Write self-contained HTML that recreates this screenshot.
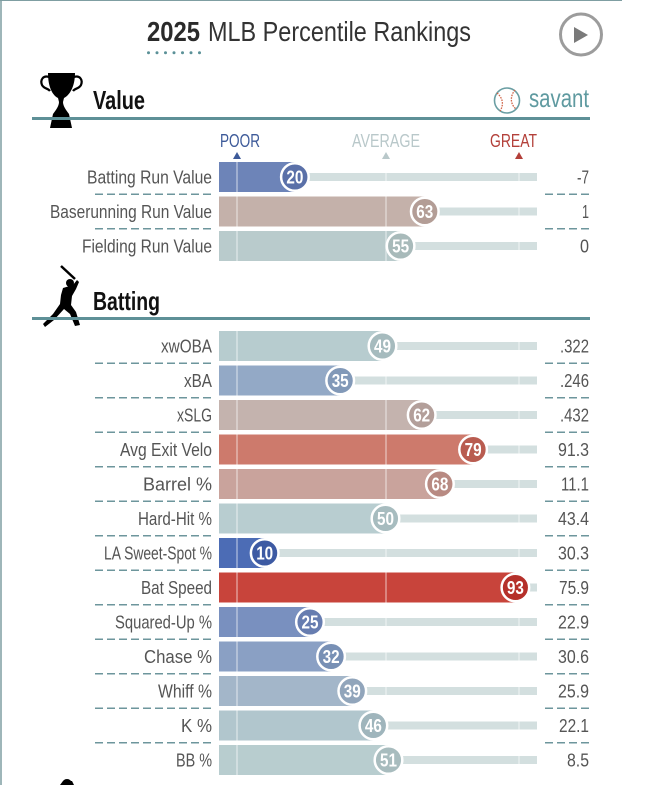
<!DOCTYPE html>
<html>
<head>
<meta charset="utf-8">
<style>
  html,body{margin:0;padding:0;background:#fff;}
  svg{display:block;}
  .lbl{font-family:"Liberation Sans Narrow","Liberation Sans",sans-serif;font-size:18.5px;fill:#555;}
  .val{font-family:"Liberation Sans Narrow","Liberation Sans",sans-serif;font-size:18.5px;fill:#555;}
  .num{font-family:"Liberation Sans Narrow","Liberation Sans",sans-serif;font-size:18px;font-weight:bold;fill:#fff;}
  .hdr{font-family:"Liberation Sans Narrow","Liberation Sans",sans-serif;font-size:26px;font-weight:bold;fill:#111;}
  .tl{font-family:"Liberation Sans Narrow","Liberation Sans",sans-serif;font-size:18.5px;}
</style>
</head>
<body>
<svg width="667" height="785" viewBox="0 0 667 785" xmlns="http://www.w3.org/2000/svg">
  <!-- borders -->
  <line x1="0" y1="0.5" x2="622" y2="0.5" stroke="#7f9ea2" stroke-width="1"/>
  <line x1="1" y1="0" x2="1" y2="785" stroke="#7f9ea2" stroke-width="1.5"/>

  <!-- title -->
  <text x="147" y="41" font-family="Liberation Sans Narrow, Liberation Sans, sans-serif" font-size="27.5" font-weight="bold" fill="#2a2a2a" textLength="53" lengthAdjust="spacingAndGlyphs">2025</text>
  <text x="208" y="41" font-family="Liberation Sans Narrow, Liberation Sans, sans-serif" font-size="27.5" fill="#333" textLength="263" lengthAdjust="spacingAndGlyphs">MLB Percentile Rankings</text>
  <g fill="#5b9198">
    <circle cx="148.5" cy="52.7" r="1.5"/><circle cx="157" cy="52.7" r="1.5"/><circle cx="165.5" cy="52.7" r="1.5"/>
    <circle cx="174" cy="52.7" r="1.5"/><circle cx="182.5" cy="52.7" r="1.5"/><circle cx="191" cy="52.7" r="1.5"/>
    <circle cx="199.5" cy="52.7" r="1.5"/>
  </g>

  <!-- play button -->
  <circle cx="581" cy="34.5" r="20.5" fill="none" stroke="#9c9c9c" stroke-width="3"/>
  <polygon points="574,27 574,43 588,35" fill="#7a7a7a"/>

  <!-- trophy -->
  <g fill="#000">
    <path d="M48 73 H75 C75 86 70 95 64 98 L63 102 C63 106 66 110 69 114 L72 128 H50 L53 114 C56 110 59 106 59 102 L58 98 C52 95 48 86 48 73 Z"/>
  </g>
  <g fill="none" stroke="#000" stroke-width="2.2">
    <path d="M49 77 C43 75 40 80 42 85 C44 89 48 88 50 91"/>
    <path d="M74 77 C80 75 83 80 81 85 C79 89 75 88 73 91"/>
  </g>
  <text x="93" y="109" class="hdr" textLength="52" lengthAdjust="spacingAndGlyphs">Value</text>

  <!-- savant -->
  <circle cx="507" cy="100.5" r="12.5" fill="#fff" stroke="#6a9ea3" stroke-width="1.6"/>
  <path d="M497 93 C503 98 504 105 500 111" fill="none" stroke="#d0664a" stroke-width="1.3" stroke-dasharray="1.6 1.1"/>
  <path d="M515 90 C510 96 510 104 516 109" fill="none" stroke="#d0664a" stroke-width="1.3" stroke-dasharray="1.6 1.1"/>
  <text x="529" y="107" font-family="Liberation Sans Narrow, Liberation Sans, sans-serif" font-size="26" fill="#5f9aa0" textLength="60" lengthAdjust="spacingAndGlyphs">savant</text>

  <rect x="32" y="117" width="558" height="3" fill="#5e9097"/>

  <!-- POOR / AVERAGE / GREAT -->
  <text x="220" y="147" class="tl" fill="#3d5a99" textLength="40" lengthAdjust="spacingAndGlyphs">POOR</text>
  <text x="352" y="147" class="tl" fill="#b9c8ca" textLength="68" lengthAdjust="spacingAndGlyphs">AVERAGE</text>
  <text x="490" y="147" class="tl" fill="#b3403a" textLength="47" lengthAdjust="spacingAndGlyphs">GREAT</text>
  <polygon points="233,159 241,159 237,152" fill="#3d5a99"/>
  <polygon points="382,159 390,159 386,152" fill="#b9c8ca"/>
  <polygon points="515,159 523,159 519,152" fill="#b3403a"/>

  <!-- ===== VALUE ROWS ===== -->
  <rect x="219" y="173" width="318" height="8" fill="#d3dfdf"/>
  <rect x="219" y="162" width="75.9" height="30" fill="#6d84b8"/>
  <rect x="236" y="162" width="2" height="30" fill="#fff" opacity="0.35"/>
  <rect x="385" y="162" width="2" height="30" fill="#fff" opacity="0.35"/>
  <rect x="518" y="162" width="2" height="30" fill="#fff" opacity="0.35"/>
  <circle cx="294.9" cy="177" r="13.8" fill="#5a70a8" stroke="#fff" stroke-width="2.5"/>
  <text x="294.9" y="183.5" class="num" text-anchor="middle" textLength="17" lengthAdjust="spacingAndGlyphs">20</text>
  <text x="87" y="183.5" class="lbl" textLength="125" lengthAdjust="spacingAndGlyphs">Batting Run Value</text>
  <text x="589" y="183.5" class="val" text-anchor="end" textLength="12" lengthAdjust="spacingAndGlyphs">-7</text>

  <rect x="219" y="207.5" width="318" height="8" fill="#d3dfdf"/>
  <rect x="219" y="196.5" width="205.8" height="30" fill="#c4b1aa"/>
  <rect x="236" y="196.5" width="2" height="30" fill="#fff" opacity="0.35"/>
  <rect x="385" y="196.5" width="2" height="30" fill="#fff" opacity="0.35"/>
  <rect x="518" y="196.5" width="2" height="30" fill="#fff" opacity="0.35"/>
  <circle cx="424.8" cy="211.5" r="13.8" fill="#b39d96" stroke="#fff" stroke-width="2.5"/>
  <text x="424.8" y="218" class="num" text-anchor="middle" textLength="17" lengthAdjust="spacingAndGlyphs">63</text>
  <text x="50" y="218" class="lbl" textLength="162" lengthAdjust="spacingAndGlyphs">Baserunning Run Value</text>
  <text x="589" y="218" class="val" text-anchor="end" textLength="7" lengthAdjust="spacingAndGlyphs">1</text>

  <rect x="219" y="242" width="318" height="8" fill="#d3dfdf"/>
  <rect x="219" y="231" width="181.6" height="30" fill="#b9cbcc"/>
  <rect x="236" y="231" width="2" height="30" fill="#fff" opacity="0.35"/>
  <rect x="385" y="231" width="2" height="30" fill="#fff" opacity="0.35"/>
  <rect x="518" y="231" width="2" height="30" fill="#fff" opacity="0.35"/>
  <circle cx="400.6" cy="246" r="13.8" fill="#a8baba" stroke="#fff" stroke-width="2.5"/>
  <text x="400.6" y="252.5" class="num" text-anchor="middle" textLength="17" lengthAdjust="spacingAndGlyphs">55</text>
  <text x="82" y="252.5" class="lbl" textLength="130" lengthAdjust="spacingAndGlyphs">Fielding Run Value</text>
  <text x="589" y="252.5" class="val" text-anchor="end" textLength="9" lengthAdjust="spacingAndGlyphs">0</text>

  <g stroke="#6d969c" stroke-width="1.5" stroke-dasharray="8 4">
    <line x1="95" y1="194.25" x2="212" y2="194.25"/><line x1="545" y1="194.25" x2="589" y2="194.25"/>
    <line x1="95" y1="228.75" x2="212" y2="228.75"/><line x1="545" y1="228.75" x2="589" y2="228.75"/>
  </g>

  <!-- batter -->
  <line x1="61" y1="266" x2="75" y2="279" stroke="#000" stroke-width="2.5"/>
  <circle cx="70" cy="283" r="4" fill="#000"/>
  <path d="M63 288 L73 285 L77 280 L79 282 L76 289 L72 296 L71 305 L76 312 L80 325 L75 326 L70 314 L64 309 L54 320 L45 327 L43 324 L53 314 L60 304 L61 295 Z" fill="#000"/>
  <text x="93" y="310" class="hdr" textLength="67" lengthAdjust="spacingAndGlyphs">Batting</text>
  <rect x="32" y="317" width="558" height="3" fill="#5e9097"/>

  <!-- ===== BATTING ROWS ===== -->
  <rect x="219" y="342" width="318" height="8" fill="#d3dfdf"/>
  <rect x="219" y="331" width="163.5" height="30" fill="#b7cccf"/>
  <rect x="236" y="331" width="2" height="30" fill="#fff" opacity="0.35"/>
  <rect x="385" y="331" width="2" height="30" fill="#fff" opacity="0.35"/>
  <rect x="518" y="331" width="2" height="30" fill="#fff" opacity="0.35"/>
  <circle cx="382.5" cy="346" r="13.8" fill="#a6bbbe" stroke="#fff" stroke-width="2.5"/>
  <text x="382.5" y="352.5" class="num" text-anchor="middle" textLength="17" lengthAdjust="spacingAndGlyphs">49</text>
  <text x="161" y="352.5" class="lbl" textLength="51" lengthAdjust="spacingAndGlyphs">xwOBA</text>
  <text x="589" y="352.5" class="val" text-anchor="end" textLength="29" lengthAdjust="spacingAndGlyphs">.322</text>

  <rect x="219" y="376.5" width="318" height="8" fill="#d3dfdf"/>
  <rect x="219" y="365.5" width="121.2" height="30" fill="#93a9c6"/>
  <rect x="236" y="365.5" width="2" height="30" fill="#fff" opacity="0.35"/>
  <rect x="385" y="365.5" width="2" height="30" fill="#fff" opacity="0.35"/>
  <rect x="518" y="365.5" width="2" height="30" fill="#fff" opacity="0.35"/>
  <circle cx="340.2" cy="380.5" r="13.8" fill="#8299b8" stroke="#fff" stroke-width="2.5"/>
  <text x="340.2" y="387" class="num" text-anchor="middle" textLength="17" lengthAdjust="spacingAndGlyphs">35</text>
  <text x="184" y="387" class="lbl" textLength="28" lengthAdjust="spacingAndGlyphs">xBA</text>
  <text x="589" y="387" class="val" text-anchor="end" textLength="29" lengthAdjust="spacingAndGlyphs">.246</text>

  <rect x="219" y="411" width="318" height="8" fill="#d3dfdf"/>
  <rect x="219" y="400" width="202.7" height="30" fill="#c4b3ae"/>
  <rect x="236" y="400" width="2" height="30" fill="#fff" opacity="0.35"/>
  <rect x="385" y="400" width="2" height="30" fill="#fff" opacity="0.35"/>
  <rect x="518" y="400" width="2" height="30" fill="#fff" opacity="0.35"/>
  <circle cx="421.7" cy="415" r="13.8" fill="#b39f9a" stroke="#fff" stroke-width="2.5"/>
  <text x="421.7" y="421.5" class="num" text-anchor="middle" textLength="17" lengthAdjust="spacingAndGlyphs">62</text>
  <text x="177" y="421.5" class="lbl" textLength="35" lengthAdjust="spacingAndGlyphs">xSLG</text>
  <text x="589" y="421.5" class="val" text-anchor="end" textLength="29" lengthAdjust="spacingAndGlyphs">.432</text>

  <rect x="219" y="445.5" width="318" height="8" fill="#d3dfdf"/>
  <rect x="219" y="434.5" width="254.1" height="30" fill="#cd7a6c"/>
  <rect x="236" y="434.5" width="2" height="30" fill="#fff" opacity="0.35"/>
  <rect x="385" y="434.5" width="2" height="30" fill="#fff" opacity="0.35"/>
  <rect x="518" y="434.5" width="2" height="30" fill="#fff" opacity="0.35"/>
  <circle cx="473.1" cy="449.5" r="13.8" fill="#b95c50" stroke="#fff" stroke-width="2.5"/>
  <text x="473.1" y="456" class="num" text-anchor="middle" textLength="17" lengthAdjust="spacingAndGlyphs">79</text>
  <text x="120" y="456" class="lbl" textLength="92" lengthAdjust="spacingAndGlyphs">Avg Exit Velo</text>
  <text x="589" y="456" class="val" text-anchor="end" textLength="31" lengthAdjust="spacingAndGlyphs">91.3</text>

  <rect x="219" y="480" width="318" height="8" fill="#d3dfdf"/>
  <rect x="219" y="469" width="220.9" height="30" fill="#c9a39c"/>
  <rect x="236" y="469" width="2" height="30" fill="#fff" opacity="0.35"/>
  <rect x="385" y="469" width="2" height="30" fill="#fff" opacity="0.35"/>
  <rect x="518" y="469" width="2" height="30" fill="#fff" opacity="0.35"/>
  <circle cx="439.9" cy="484" r="13.8" fill="#b88a82" stroke="#fff" stroke-width="2.5"/>
  <text x="439.9" y="490.5" class="num" text-anchor="middle" textLength="17" lengthAdjust="spacingAndGlyphs">68</text>
  <text x="143" y="490.5" class="lbl" textLength="69" lengthAdjust="spacingAndGlyphs">Barrel %</text>
  <text x="589" y="490.5" class="val" text-anchor="end" textLength="28" lengthAdjust="spacingAndGlyphs">11.1</text>

  <rect x="219" y="514.5" width="318" height="8" fill="#d3dfdf"/>
  <rect x="219" y="503.5" width="166.5" height="30" fill="#b8cdd0"/>
  <rect x="236" y="503.5" width="2" height="30" fill="#fff" opacity="0.35"/>
  <rect x="385" y="503.5" width="2" height="30" fill="#fff" opacity="0.35"/>
  <rect x="518" y="503.5" width="2" height="30" fill="#fff" opacity="0.35"/>
  <circle cx="385.5" cy="518.5" r="13.8" fill="#a7bcbf" stroke="#fff" stroke-width="2.5"/>
  <text x="385.5" y="525" class="num" text-anchor="middle" textLength="17" lengthAdjust="spacingAndGlyphs">50</text>
  <text x="138" y="525" class="lbl" textLength="74" lengthAdjust="spacingAndGlyphs">Hard-Hit %</text>
  <text x="589" y="525" class="val" text-anchor="end" textLength="31" lengthAdjust="spacingAndGlyphs">43.4</text>

  <rect x="219" y="549" width="318" height="8" fill="#d3dfdf"/>
  <rect x="219" y="538" width="45.7" height="30" fill="#4c6cb5"/>
  <rect x="236" y="538" width="2" height="30" fill="#fff" opacity="0.35"/>
  <rect x="385" y="538" width="2" height="30" fill="#fff" opacity="0.35"/>
  <rect x="518" y="538" width="2" height="30" fill="#fff" opacity="0.35"/>
  <circle cx="264.7" cy="553" r="13.8" fill="#3d5aa3" stroke="#fff" stroke-width="2.5"/>
  <text x="264.7" y="559.5" class="num" text-anchor="middle" textLength="17" lengthAdjust="spacingAndGlyphs">10</text>
  <text x="104" y="559.5" class="lbl" textLength="108" lengthAdjust="spacingAndGlyphs">LA Sweet-Spot %</text>
  <text x="589" y="559.5" class="val" text-anchor="end" textLength="31" lengthAdjust="spacingAndGlyphs">30.3</text>

  <rect x="219" y="583.5" width="318" height="8" fill="#d3dfdf"/>
  <rect x="219" y="572.5" width="296.4" height="30" fill="#c8443b"/>
  <rect x="236" y="572.5" width="2" height="30" fill="#fff" opacity="0.35"/>
  <rect x="385" y="572.5" width="2" height="30" fill="#fff" opacity="0.35"/>
  <rect x="518" y="572.5" width="2" height="30" fill="#fff" opacity="0.35"/>
  <circle cx="515.4" cy="587.5" r="13.8" fill="#b5302a" stroke="#fff" stroke-width="2.5"/>
  <text x="515.4" y="594" class="num" text-anchor="middle" textLength="17" lengthAdjust="spacingAndGlyphs">93</text>
  <text x="141" y="594" class="lbl" textLength="71" lengthAdjust="spacingAndGlyphs">Bat Speed</text>
  <text x="589" y="594" class="val" text-anchor="end" textLength="30" lengthAdjust="spacingAndGlyphs">75.9</text>

  <rect x="219" y="618" width="318" height="8" fill="#d3dfdf"/>
  <rect x="219" y="607" width="91" height="30" fill="#7990bf"/>
  <rect x="236" y="607" width="2" height="30" fill="#fff" opacity="0.35"/>
  <rect x="385" y="607" width="2" height="30" fill="#fff" opacity="0.35"/>
  <rect x="518" y="607" width="2" height="30" fill="#fff" opacity="0.35"/>
  <circle cx="310" cy="622" r="13.8" fill="#677db0" stroke="#fff" stroke-width="2.5"/>
  <text x="310" y="628.5" class="num" text-anchor="middle" textLength="17" lengthAdjust="spacingAndGlyphs">25</text>
  <text x="115" y="628.5" class="lbl" textLength="97" lengthAdjust="spacingAndGlyphs">Squared-Up %</text>
  <text x="589" y="628.5" class="val" text-anchor="end" textLength="31" lengthAdjust="spacingAndGlyphs">22.9</text>

  <rect x="219" y="652.5" width="318" height="8" fill="#d3dfdf"/>
  <rect x="219" y="641.5" width="112.1" height="30" fill="#8aa0c4"/>
  <rect x="236" y="641.5" width="2" height="30" fill="#fff" opacity="0.35"/>
  <rect x="385" y="641.5" width="2" height="30" fill="#fff" opacity="0.35"/>
  <rect x="518" y="641.5" width="2" height="30" fill="#fff" opacity="0.35"/>
  <circle cx="331.1" cy="656.5" r="13.8" fill="#7890b5" stroke="#fff" stroke-width="2.5"/>
  <text x="331.1" y="663" class="num" text-anchor="middle" textLength="17" lengthAdjust="spacingAndGlyphs">32</text>
  <text x="144" y="663" class="lbl" textLength="68" lengthAdjust="spacingAndGlyphs">Chase %</text>
  <text x="589" y="663" class="val" text-anchor="end" textLength="31" lengthAdjust="spacingAndGlyphs">30.6</text>

  <rect x="219" y="687" width="318" height="8" fill="#d3dfdf"/>
  <rect x="219" y="676" width="133.3" height="30" fill="#a3b6c9"/>
  <rect x="236" y="676" width="2" height="30" fill="#fff" opacity="0.35"/>
  <rect x="385" y="676" width="2" height="30" fill="#fff" opacity="0.35"/>
  <rect x="518" y="676" width="2" height="30" fill="#fff" opacity="0.35"/>
  <circle cx="352.3" cy="691" r="13.8" fill="#91a5bb" stroke="#fff" stroke-width="2.5"/>
  <text x="352.3" y="697.5" class="num" text-anchor="middle" textLength="17" lengthAdjust="spacingAndGlyphs">39</text>
  <text x="158" y="697.5" class="lbl" textLength="54" lengthAdjust="spacingAndGlyphs">Whiff %</text>
  <text x="589" y="697.5" class="val" text-anchor="end" textLength="31" lengthAdjust="spacingAndGlyphs">25.9</text>

  <rect x="219" y="721.5" width="318" height="8" fill="#d3dfdf"/>
  <rect x="219" y="710.5" width="154.4" height="30" fill="#b1c6cd"/>
  <rect x="236" y="710.5" width="2" height="30" fill="#fff" opacity="0.35"/>
  <rect x="385" y="710.5" width="2" height="30" fill="#fff" opacity="0.35"/>
  <rect x="518" y="710.5" width="2" height="30" fill="#fff" opacity="0.35"/>
  <circle cx="373.4" cy="725.5" r="13.8" fill="#9fb5bc" stroke="#fff" stroke-width="2.5"/>
  <text x="373.4" y="732" class="num" text-anchor="middle" textLength="17" lengthAdjust="spacingAndGlyphs">46</text>
  <text x="181" y="732" class="lbl" textLength="31" lengthAdjust="spacingAndGlyphs">K %</text>
  <text x="589" y="732" class="val" text-anchor="end" textLength="30" lengthAdjust="spacingAndGlyphs">22.1</text>

  <rect x="219" y="756" width="318" height="8" fill="#d3dfdf"/>
  <rect x="219" y="745" width="169.5" height="30" fill="#b8cdcf"/>
  <rect x="236" y="745" width="2" height="30" fill="#fff" opacity="0.35"/>
  <rect x="385" y="745" width="2" height="30" fill="#fff" opacity="0.35"/>
  <rect x="518" y="745" width="2" height="30" fill="#fff" opacity="0.35"/>
  <circle cx="388.5" cy="760" r="13.8" fill="#a8bcbe" stroke="#fff" stroke-width="2.5"/>
  <text x="388.5" y="766.5" class="num" text-anchor="middle" textLength="17" lengthAdjust="spacingAndGlyphs">51</text>
  <text x="176" y="766.5" class="lbl" textLength="36" lengthAdjust="spacingAndGlyphs">BB %</text>
  <text x="589" y="766.5" class="val" text-anchor="end" textLength="22" lengthAdjust="spacingAndGlyphs">8.5</text>

  <g stroke="#6d969c" stroke-width="1.5" stroke-dasharray="8 4">
    <line x1="95" y1="363.25" x2="212" y2="363.25"/><line x1="545" y1="363.25" x2="589" y2="363.25"/>
    <line x1="95" y1="397.75" x2="212" y2="397.75"/><line x1="545" y1="397.75" x2="589" y2="397.75"/>
    <line x1="95" y1="432.25" x2="212" y2="432.25"/><line x1="545" y1="432.25" x2="589" y2="432.25"/>
    <line x1="95" y1="466.75" x2="212" y2="466.75"/><line x1="545" y1="466.75" x2="589" y2="466.75"/>
    <line x1="95" y1="501.25" x2="212" y2="501.25"/><line x1="545" y1="501.25" x2="589" y2="501.25"/>
    <line x1="95" y1="535.75" x2="212" y2="535.75"/><line x1="545" y1="535.75" x2="589" y2="535.75"/>
    <line x1="95" y1="570.25" x2="212" y2="570.25"/><line x1="545" y1="570.25" x2="589" y2="570.25"/>
    <line x1="95" y1="604.75" x2="212" y2="604.75"/><line x1="545" y1="604.75" x2="589" y2="604.75"/>
    <line x1="95" y1="639.25" x2="212" y2="639.25"/><line x1="545" y1="639.25" x2="589" y2="639.25"/>
    <line x1="95" y1="673.75" x2="212" y2="673.75"/><line x1="545" y1="673.75" x2="589" y2="673.75"/>
    <line x1="95" y1="708.25" x2="212" y2="708.25"/><line x1="545" y1="708.25" x2="589" y2="708.25"/>
    <line x1="95" y1="742.75" x2="212" y2="742.75"/><line x1="545" y1="742.75" x2="589" y2="742.75"/>
  </g>

  <ellipse cx="67" cy="783" rx="4.5" ry="4" fill="#000"/>
  <path d="M60 785 L63 781 L72 781 L74 785 Z" fill="#000"/>
</svg>
</body>
</html>
